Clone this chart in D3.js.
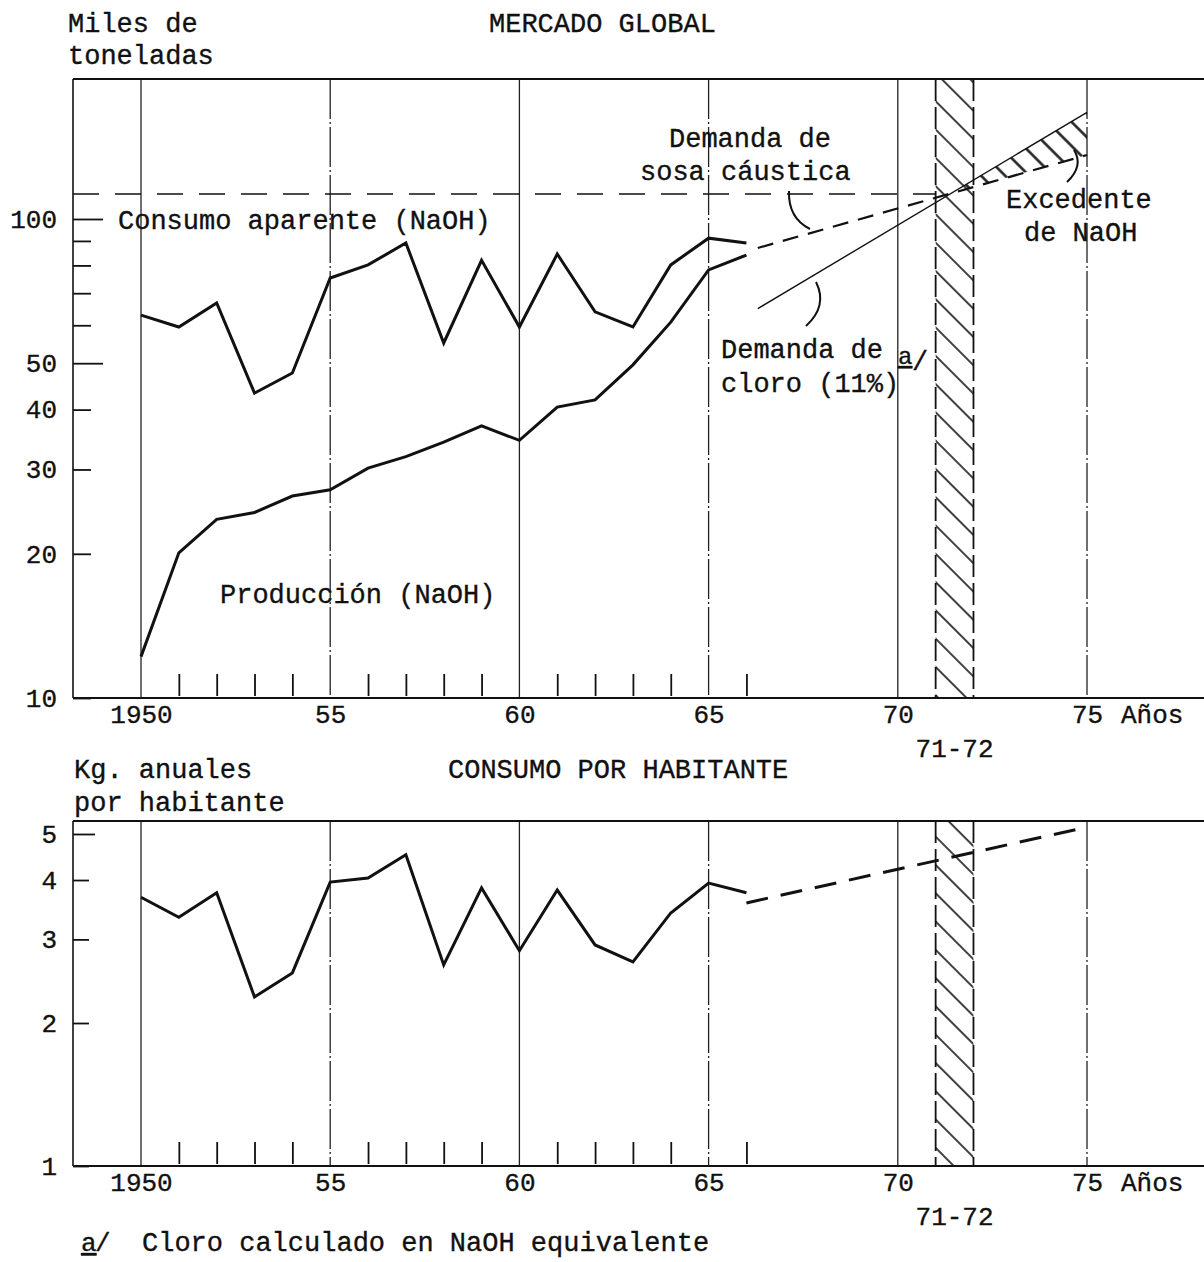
<!DOCTYPE html>
<html>
<head>
<meta charset="utf-8">
<script src="https://cdn.jsdelivr.net/npm/d3@7"></script>
<style>
body { margin: 0; background: #fff; }
text { font-family: "Liberation Mono", "Courier New", monospace; fill: #111; stroke: #111; stroke-width: 0.35px; }
</style>
</head>
<body>
<div class="chart"></div>
<script>
// datos
var years = [1950, 1951, 1952, 1953, 1954, 1955, 1956, 1957, 1958, 1959, 1960, 1961, 1962, 1963, 1964, 1965, 1966];
var consumo = [63, 59.5, 66.8, 43.3, 47.7, 75.3, 80.2, 89.1, 55.1, 82, 59.5, 84.5, 64, 59.5, 80.2, 91.2, 89.1];
var produccion = [12.2, 20.1, 23.6, 24.4, 26.4, 27.2, 30.2, 31.9, 34.2, 37, 34.5, 40.5, 41.9, 49.6, 60.9, 78.3, 84.1];
var porHabitante = [3.68, 3.34, 3.76, 2.27, 2.55, 3.96, 4.04, 4.52, 2.65, 3.85, 2.84, 3.81, 2.92, 2.69, 3.41, 3.94, 3.76];

var proyYears = [1966.3, 1975];
var demandaSosa = [87, 136];
var demandaCloro = [65, 167];
var habProyYears = [1966, 1975];
var habProy = [3.58, 5.17];
var nivelCruce = 112.8;
var periodo = [1971, 1972];

var majorYears = [1950, 1955, 1960, 1965, 1970, 1975];
var minorYears = [1951, 1952, 1953, 1954, 1956, 1957, 1958, 1959, 1961, 1962, 1963, 1964, 1966];
var yearLabels = ["1950", "55", "60", "65", "70", "75"];
var topTicks = [10, 20, 30, 40, 50, 60, 70, 80, 90, 100];
var topLabels = [10, 20, 30, 40, 50, 100];
var bottomTicks = [1, 2, 3, 4, 5];

var width = 1204;
var height = 1262;
var left = 73;

var x = d3.scaleLinear().domain([1950, 1975]).range([141, 1087]);
var yTop = d3.scaleLog().domain([10, 100]).range([698, 219]);
var yBot = d3.scaleLog().domain([1, 5]).range([1166, 834]);

var svg = d3
  .select(".chart")
  .append("svg")
  .attr("width", width)
  .attr("height", height)
  .style("background", "#fff");

var defs = svg.append("defs");
function hatch(id, gap, w) {
  var p = defs.append("pattern")
    .attr("id", id)
    .attr("patternUnits", "userSpaceOnUse")
    .attr("width", 10)
    .attr("height", gap)
    .attr("patternTransform", "rotate(45)");
  p.append("line")
    .attr("x1", 0).attr("x2", 10)
    .attr("y1", gap / 2).attr("y2", gap / 2)
    .attr("stroke", "#111")
    .attr("stroke-width", w);
}
hatch("band", 20, 1.6);
hatch("exc", 17, 2.4);

function panel(y, top, bottom) {
  var g = svg.append("g");

  // franja 71-72
  g.append("rect")
    .attr("x", x(periodo[0]))
    .attr("y", top)
    .attr("width", x(periodo[1]) - x(periodo[0]))
    .attr("height", bottom - top)
    .attr("fill", "url(#band)");
  g.selectAll(".borde")
    .data(periodo)
    .enter()
    .append("line")
    .attr("x1", function(d) { return x(d); })
    .attr("x2", function(d) { return x(d); })
    .attr("y1", top)
    .attr("y2", bottom)
    .attr("stroke", "#111")
    .attr("stroke-width", 1.8)
    .attr("stroke-dasharray", "22 6");

  // lineas verticales de los anos
  g.selectAll(".grid")
    .data(majorYears)
    .enter()
    .append("line")
    .attr("x1", function(d) { return x(d); })
    .attr("x2", function(d) { return x(d); })
    .attr("y1", top)
    .attr("y2", bottom)
    .attr("stroke", "#222")
    .attr("stroke-width", 1.3)
    .attr("stroke-dasharray", function(d, i) { return i % 2 ? "40 3 2 3" : null; });

  // marco
  g.append("line").attr("x1", left).attr("x2", width).attr("y1", top).attr("y2", top)
    .attr("stroke", "#111").attr("stroke-width", 1.8);
  g.append("line").attr("x1", left).attr("x2", width).attr("y1", bottom).attr("y2", bottom)
    .attr("stroke", "#111").attr("stroke-width", 1.8);
  g.append("line").attr("x1", left).attr("x2", left).attr("y1", top).attr("y2", bottom)
    .attr("stroke", "#111").attr("stroke-width", 1.6);

  // marcas menores del eje x
  var minor = g.append("g")
    .attr("transform", "translate(0," + (bottom - 2) + ")")
    .call(d3.axisBottom(x).tickValues(minorYears).tickSize(-22).tickFormat(""));
  minor.select(".domain").remove();
  minor.selectAll("line").attr("stroke", "#111").attr("stroke-width", 1.8);

  // etiquetas de anos
  var ax = g.append("g")
    .attr("transform", "translate(0," + bottom + ")")
    .call(d3.axisBottom(x).tickValues(majorYears).tickSize(0).tickPadding(7)
      .tickFormat(function(d, i) { return yearLabels[i]; }));
  ax.select(".domain").remove();
  ax.selectAll("text").attr("font-size", 26).attr("font-family", "Liberation Mono");

  g.append("text").attr("x", x(1975) + 34).attr("y", bottom + 25)
    .attr("font-size", 26).text("Años");
  g.append("text").attr("x", x(1971.5)).attr("y", bottom + 59)
    .attr("text-anchor", "middle").attr("font-size", 26).text("71-72");
  return g;
}

function yAxis(g, scale, ticks, labels, longT, shortT) {
  var a = g.append("g")
    .attr("transform", "translate(" + left + ",0)")
    .call(d3.axisLeft(scale).tickValues(ticks).tickSize(-shortT).tickPadding(16)
      .tickFormat(function(d) { return labels.indexOf(d) >= 0 ? d : ""; }));
  a.select(".domain").remove();
  a.selectAll("line")
    .attr("stroke", "#111")
    .attr("stroke-width", 1.8)
    .attr("x2", function(d) { return d === 100 || d === 50 || d === 5 ? longT : shortT; });
  a.selectAll("text").attr("font-size", 26).attr("font-family", "Liberation Mono");
}

function serie(g, xs, ys, scale, w, dash) {
  var line = d3.line()
    .x(function(d) { return x(d[0]); })
    .y(function(d) { return scale(d[1]); });
  g.append("path")
    .datum(d3.zip(xs, ys))
    .attr("d", line)
    .attr("fill", "none")
    .attr("stroke", "#111")
    .attr("stroke-width", w)
    .attr("stroke-linejoin", "miter")
    .attr("stroke-dasharray", dash);
}

// ---------- MERCADO GLOBAL ----------
var topG = panel(yTop, 79, 698);
yAxis(topG, yTop, topTicks, topLabels, 30, 18);

// linea de nivel de cruce
topG.append("line")
  .attr("x1", left).attr("x2", x(1971))
  .attr("y1", yTop(nivelCruce)).attr("y2", yTop(nivelCruce))
  .attr("stroke", "#111").attr("stroke-width", 1.6)
  .attr("stroke-dasharray", "26 16");

// excedente de NaOH entre las dos demandas
var s0 = [x(proyYears[0]), yTop(demandaSosa[0])], s1 = [x(proyYears[1]), yTop(demandaSosa[1])];
var c0 = [x(proyYears[0]), yTop(demandaCloro[0])], c1 = [x(proyYears[1]), yTop(demandaCloro[1])];
var ms = (s1[1] - s0[1]) / (s1[0] - s0[0]), mc = (c1[1] - c0[1]) / (c1[0] - c0[0]);
var cx = s0[0] + (c0[1] - s0[1]) / (ms - mc);
var cy = s0[1] + ms * (cx - s0[0]);
topG.append("path")
  .attr("d", "M" + cx + "," + cy + "L" + c1 + "L" + s1 + "Z")
  .attr("fill", "url(#exc)");

serie(topG, years, consumo, yTop, 3);
serie(topG, years, produccion, yTop, 3);
serie(topG, proyYears, demandaSosa, yTop, 2.2, "16 10");
serie(topG, proyYears, demandaCloro, yTop, 1.4);

// textos
var T = 27;
function txt(xp, yp, s, size) {
  return svg.append("text").attr("x", xp).attr("y", yp).attr("font-size", size || T).text(s);
}
txt(68, 32, "Miles de");
txt(68, 64, "toneladas");
txt(489, 32, "MERCADO GLOBAL");
txt(118, 229, "Consumo aparente (NaOH)");
txt(220, 603, "Producción (NaOH)");
txt(669, 147, "Demanda de");
txt(640, 180, "sosa cáustica");
txt(721, 358, "Demanda de");
txt(721, 392, "cloro (11%)");
txt(898, 364, "a", 24).attr("text-decoration", "underline");
txt(912, 370, "/", 27);
txt(1006, 208, "Excedente");
txt(1024, 241, "de NaOH");

// flechas curvas
var arcs = [
  "M789,191 Q788,218 810,229",
  "M816,282 Q828,306 806,326",
  "M1074,150 Q1084,166 1067,182"
];
svg.selectAll(".arc")
  .data(arcs)
  .enter()
  .append("path")
  .attr("d", function(d) { return d; })
  .attr("fill", "none")
  .attr("stroke", "#111")
  .attr("stroke-width", 2);

// ---------- CONSUMO POR HABITANTE ----------
var botG = panel(yBot, 821, 1166);
yAxis(botG, yBot, bottomTicks, bottomTicks, 22, 16);
serie(botG, years, porHabitante, yBot, 3);
serie(botG, habProyYears, habProy, yBot, 3, "22 13");

txt(74, 778, "Kg. anuales");
txt(74, 811, "por habitante");
txt(448, 778, "CONSUMO POR HABITANTE");

txt(81, 1251, "a", 26).attr("text-decoration", "underline");
txt(95, 1251, "/", 26);
txt(142, 1251, "Cloro calculado en NaOH equivalente");
</script>
</body>
</html>
